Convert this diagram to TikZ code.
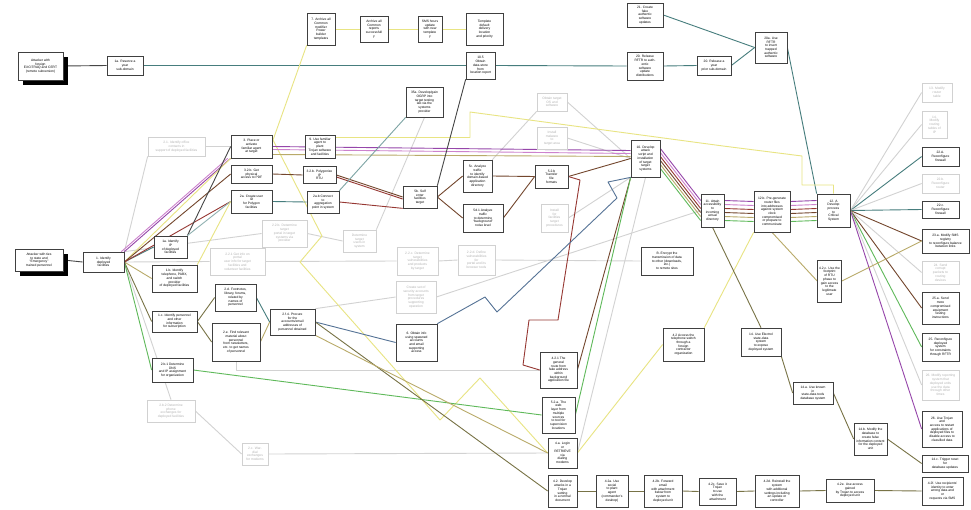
\documentclass[tikz,border=0pt]{standalone}
\usepackage{fontspec}
\setmainfont{Liberation Sans}
\usepackage{tikz}
\usetikzlibrary{
  shadows,
  backgrounds,
  calc
}
\definecolor{tealline}{RGB}{70, 125, 125}
\definecolor{purpleline}{RGB}{150, 70, 170}
\definecolor{pinkline}{RGB}{205, 130, 205}
\definecolor{brownline}{RGB}{115, 70, 45}
\definecolor{redline}{RGB}{150, 55, 50}
\definecolor{tanline}{RGB}{185, 170, 105}
\definecolor{yellowline}{RGB}{232, 228, 130}
\definecolor{greenline}{RGB}{95, 185, 90}
\definecolor{blueline}{RGB}{85, 115, 150}
\definecolor{oliveline}{RGB}{120, 115, 70}
\definecolor{fadeline}{RGB}{210, 210, 210}
\definecolor{darkline}{RGB}{70, 70, 70}
\tikzset{
stepbox/.style={
  draw=black!75,
  fill=white,
  line width=0.7pt,
  inner sep=0.5pt,
  align=center,
  font=\fontsize{3.3}{3.7}\selectfont
},
fadebox/.style={
  stepbox,
  draw=black!18,
  text=black!30
},
rootbox/.style={
  stepbox,
  drop shadow={shadow xshift=4.5pt, shadow yshift=-4.5pt, fill=black, opacity=1}
},
sz/.style 2 args={
  minimum width=#1pt,
  minimum height=#2pt
},
link/.style={
  line width=0.9pt,
  line join=round
}
}

\begin{document}
\begin{tikzpicture}[x=1pt, y=-1pt]
\useasboundingbox (0,0) rectangle (971,509);

\node[rootbox, sz={45}{28}] (atkA) at (40.5,66) {Attacker with\\foreign\\EXCITRAQ and CERT\\(remote subversion)};
\node[stepbox, sz={36}{19}] (n1yr) at (125,65.5) {1a. Reserve a\\year\\sub-domain};
\node[stepbox, sz={28}{32}] (n7) at (321,29) {7. Archive all\\Common\\modifier\\Power\\builder\\templates};
\node[stepbox, sz={28}{26}] (n7a) at (374,29) {Archive all\\Common\\reports\\successfull\\y};
\node[stepbox, sz={24}{26}] (n7b) at (430,29) {SMS hours\\update\\with new\\template\\y};
\node[stepbox, sz={37}{32}] (n7c) at (484.5,29) {Template\\default\\delivery\\location\\and priority};
\node[stepbox, sz={29}{27}] (n105) at (480.5,65.5) {10.5\\Obtain\\data-store\\from\\location report};
\node[stepbox, sz={36}{24}] (n21) at (645,15) {21. Create\\fake\\authentic\\software\\updates};
\node[stepbox, sz={36}{28}] (n20) at (645,66) {20. Release\\RFTR to auth-\\entic\\software\\update\\distributions};
\node[stepbox, sz={34}{19}] (n20r) at (714,65.5) {20. Release a\\year\\prior sub-domain};
\node[stepbox, sz={32}{31}] (n20a) at (771,47.5) {20a. Use\\RFTR\\to insert\\trapped\\authentic\\software};
\node[stepbox, sz={37}{30}] (n35a) at (424.5,102) {35a. Develop/gain\\OGRP into\\target testing\\lab via the\\systems\\provider};

\node[rootbox, sz={48}{22}] (atkB) at (39,260) {Attacker with ties\\to state and\\``Emergency''\\trained personnel};
\node[stepbox, sz={41}{20}] (n1) at (103.5,262) {1. Identify\\deployed\\facilities};
\node[stepbox, sz={33}{22}] (n1a) at (170.5,247) {1a. Identify\\IP\\of deployed\\facilities};
\node[stepbox, sz={45}{27}] (n1b) at (174.5,278.5) {1.b. Identify\\telephone, PABX,\\and switch\\provider\\of deployed facilities};
\node[stepbox, sz={45}{21}] (n1c) at (174.5,321.5) {1.c. Identify personnel\\and other\\information\\for subscription};
\node[stepbox, sz={41}{24}] (n2b1) at (172.5,370) {2.b.1 Determine\\DNS\\and IP assignment\\for organization};
\node[fadebox, sz={48}{22}] (n2b2) at (171,411) {2.b.2 Determine\\phone\\exchanges for\\deployed facilities};
\node[fadebox, sz={26}{22}] (n2c) at (255,454) {2.c. War-\\dial\\exchanges\\for modems};
\node[fadebox, sz={57}{19}] (n21f) at (176.5,146.5) {2.1. Identify office\\contacts in\\support of deployed facilities};

\node[stepbox, sz={41}{23}] (n3) at (251.5,146.5) {3. Place or\\activate\\familiar agent\\at target};
\node[stepbox, sz={41}{18}] (n32b) at (251.5,174) {3.2.b. Get\\physical\\access to PDF};
\node[stepbox, sz={41}{23}] (n2a) at (251.5,201.5) {2a. Create user\\ID\\for Polygon\\facilities};
\node[fadebox, sz={55}{27}] (n221f) at (237.5,261.5) {2.2.1 Get info on\\portal\\user info for target\\facilities and\\volunteer facilities};
\node[stepbox, sz={41}{27}] (n2d) at (235.5,297.5) {2.d. Footnotes,\\library, forums,\\related by\\names of\\personnel};
\node[stepbox, sz={48}{38}] (n2e) at (236,342) {2.e. Find relevant\\material about\\personnel\\from newsletters,\\etc. to get names\\of personnel};

\node[stepbox, sz={30}{23}] (n9) at (320,146.5) {9. Use familiar\\agent to\\plant\\Trojan software\\and facilities};
\node[stepbox, sz={33}{17}] (n32c) at (319.5,175) {3.2.b. Polygonize\\IP\\RTU};
\node[stepbox, sz={32}{22}] (n2ab) at (323,202) {2a.b Connect\\to\\aggregation\\point in system};
\node[fadebox, sz={45}{27}] (n22bf) at (284.5,233.5) {2.2.b. Determine\\target\\portal in target\\systems via\\provider};
\node[fadebox, sz={33}{22}] (n2detf) at (359.5,241) {Determine\\target\\users in\\system};
\node[stepbox, sz={45}{26}] (n2f4) at (292.5,322) {2.f.4. Procure\\for the\\accounts/email\\addresses of\\personnel obtained};

\node[stepbox, sz={34}{22}] (n5b) at (420,197) {5b. Self\\enter\\facilities\\target};
\node[fadebox, sz={41}{28}] (n22cf) at (417.5,261) {2.2.c. Determine\\target\\vulnerabilities\\and products\\by target};
\node[fadebox, sz={37}{30}] (n22df) at (476.5,260) {2.2.d. Define\\vulnerabilities\\for\\portal and its\\browser tools};
\node[fadebox, sz={40}{32}] (ncreatef) at (416,297) {Create set of\\security accounts\\from target\\procedures\\supporting\\operation};
\node[stepbox, sz={41}{37}] (n6) at (416.5,342.5) {6. Obtain info\\using spawned\\accounts\\and email\\supporting\\access};
\node[fadebox, sz={30}{18}] (nobtf) at (552,102) {Obtain target\\OS and\\software};
\node[fadebox, sz={30}{22}] (ninsf) at (552,138) {Install\\malware\\to\\target area};

\node[stepbox, sz={29}{32}] (n5c) at (477.5,176) {5c. Analyze\\traffic\\to identify\\domain-based\\application\\directory};
\node[stepbox, sz={40}{28}] (n5d) at (483,218) {5d.1 Analyze\\traffic\\to determine\\``background''\\noise level};
\node[stepbox, sz={33}{23}] (n5t) at (551.5,176.5) {5.2.b\\Transfer\\file\\formats};
\node[fadebox, sz={27}{28}] (ninstf) at (554.5,218) {Install\\for\\facilities\\target\\procedures};

\node[stepbox, sz={29}{37}] (n10) at (645.5,158.5) {10. Develop\\attack\\script and\\installation\\of target\\target\\systems};
\node[stepbox, sz={23}{33}] (n11) at (712.5,210.5) {11. Attain\\accessibility\\to\\incoming\\actual\\directory};
\node[stepbox, sz={52}{28}] (nB) at (667,261) {B. Encrypt the\\transmission of data\\to other (downloads,\\etc.)\\to remote sites};
\node[stepbox, sz={41}{33}] (n42) at (683.5,344.5) {4.2 Access the\\telephone switch\\through a\\foreign\\contractor\\organization};
\node[stepbox, sz={37}{36}] (n421) at (558.5,370) {4.2.1 The\\general\\route from\\fake address\\within\\background\\application file};
\node[stepbox, sz={33}{36}] (n52a) at (558.5,415) {5.2.a. The\\web\\layer from\\multiple\\sources\\to tool for\\supervision\\locations};
\node[stepbox, sz={29}{30}] (n4a) at (562.5,453) {4.a. Login\\or\\RETRIEVE\\via\\dialing\\modems};
\node[stepbox, sz={29}{32}] (n42d) at (562.5,491) {4.2. Develop\\attacks in a\\Trojan\\setting\\in a normal\\document};
\node[stepbox, sz={32}{32}] (n42a) at (612,491) {4.2a. Use\\social\\to plant\\agent\\(commander's\\desktop)};
\node[stepbox, sz={38}{32}] (n42b) at (663,491) {4.2b. Forward\\email\\with attachment\\below from\\system to\\deployed unit};
\node[stepbox, sz={37}{27}] (n42c) at (717.5,491.5) {4.2c. Save it\\Trojan\\to use\\with the\\attachment};
\node[stepbox, sz={44}{32}] (n42e) at (777,491) {4.2d. Reinstall the\\system\\with additional\\settings including\\an update or\\controller};
\node[stepbox, sz={48}{23}] (n42f) at (850,490.5) {4.2e. Use access\\gained\\by Trojan to access\\deployed unit};
\node[stepbox, sz={41}{28}] (n42g) at (942.5,491) {4.2f. Use recipients'\\identity to enter\\wrong data and\\or\\requests via SMS};

\node[stepbox, sz={36}{41}] (n12b) at (772,211.5) {12.b. Pre-generate\\router files\\into addresses\\against system\\clock\\compromised\\or prepare to\\communicate};
\node[stepbox, sz={33}{33}] (n12) at (833.5,210.5) {12. A\\Develop\\process\\to\\Critical\\System};
\node[stepbox, sz={24}{42}] (n42u) at (829.5,281) {4.2.c. Use the\\footprint\\of RTU\\phase to\\gain access\\to the\\legitimate\\user};
\node[stepbox, sz={40}{28}] (n14) at (761,342) {14. Use Electrol\\state-data\\system\\to expose\\deployed system};
\node[stepbox, sz={40}{22}] (n14a) at (813,393) {14.a. Use known\\in\\state-data tools\\database system};
\node[stepbox, sz={33}{32}] (n14b) at (870.5,439) {14.b. Modify the\\database to\\create false\\information content\\for the deployed\\unit};
\node[stepbox, sz={46}{17}] (n14c) at (945,463.5) {14.c. Trigger reset\\for\\database updates};

\node[fadebox, sz={30}{19}] (n13f) at (937,92.5) {13. Modify\\router\\table};
\node[fadebox, sz={25}{27}] (n14f) at (934.5,124.5) {14.\\Modify\\routing\\tables of\\IP};
\node[stepbox, sz={37}{19}] (n22A) at (940.5,156.5) {22.A.\\Reconfigure\\firewall};
\node[fadebox, sz={37}{19}] (n22bf2) at (940.5,183.5) {22.b.\\Reconfigure\\router};
\node[stepbox, sz={37}{17}] (n22c) at (940.5,209.5) {22.c.\\Reconfigure\\firewall};
\node[stepbox, sz={47}{24}] (n23a) at (945.5,241) {23.a. Modify SMS\\registry\\to reconfigure balance\\between links};
\node[fadebox, sz={37}{23}] (n24f) at (940.5,272.5) {24. Send\\corrupt\\packets to\\routing\\devices};
\node[stepbox, sz={37}{32}] (n25a) at (940.5,308) {25.a. Send\\more\\compromised\\equipment\\testing\\instructions};
\node[stepbox, sz={37}{28}] (n25) at (940.5,347) {25. Reconfigure\\deployed\\system\\for constraints\\through RFTR};
\node[fadebox, sz={37}{30}] (n26f) at (940.5,385) {26. Modify reporting\\system that\\deployed units\\use the data\\through other\\times};
\node[stepbox, sz={40}{36}] (n26) at (942,429) {26. Use Trojan\\and\\access to restart\\applications of\\deployed files to\\disable access to\\classified data};

\begin{scope}[on background layer]
\fill[white] (0,0) rectangle (971,509);

\draw[link, fadeline] (n1.east) -- (n2b2.north);
\draw[link, fadeline] (n1.north east) -- (n21f.south west);
\draw[link, fadeline] (n21f.east) -- (n3.west);
\draw[link, fadeline] (n1.east) -- (n221f.west);
\draw[link, fadeline] (n1.north east) -- (n22bf.west);
\draw[link, fadeline] (n2b2.east) -- (n2c.west);
\draw[link, fadeline] (n2c.east) -- (n4a.west);
\draw[link, fadeline] (n2e.south) |- (n421.west);
\draw[link, fadeline] (n221f.east) -- (n22cf.west);
\draw[link, fadeline] (n22cf.east) -- (n22df.west);
\draw[link, fadeline] (n22df.east) -- (nB.west);
\draw[link, fadeline] (n22bf.east) -- (n2detf.west);
\draw[link, fadeline] (n2detf.north east) -- (n35a.south);
\draw[link, fadeline] (n2f4.north east) -- (ncreatef.west);
\draw[link, fadeline] (ncreatef.east) -- (n11.west);
\draw[link, fadeline] (nobtf.east) -- (n10.west);
\draw[link, fadeline] (ninsf.east) -- (n10.west);
\draw[link, fadeline] (nobtf.south west) -- (n5c.north east);
\draw[link, fadeline] (ninstf.east) -- (n10.south west);
\draw[link, fadeline] (n4a.east) -- (n10.south);

\draw[link, darkline] (atkA.east) -- (n1yr.west);
\draw[link, tealline] (n1yr.east) -- (n105.west);
\draw[link, tealline] (n105.east) -- (n20.west);
\draw[link, tealline] (n20.east) -- (n20r.west);
\draw[link, tealline] (n20r.east) -- (n20a.west);
\draw[link, tealline] (n21.east) -- (n20a.west);
\draw[link, tealline] (n20a.east) -- (n12.north west);

\draw[link, yellowline] (n7.east) -- (n7a.west);
\draw[link, yellowline] (n7a.east) -- (n7b.west);
\draw[link, yellowline] (n7b.east) -- (n7c.west);
\draw[link, yellowline] (n7.south west) -- (273,140) -- (322,236) -- (300,262) -- (440,420) -- (480,378) -- (n4a.west);
\draw[link, yellowline] ([yshift=9pt]n9.east) -| (470,112) -- (723,146) -- (802,156) |- (833.5,185) -- (n12.north);

\draw[link, darkline] (atkB.east) -- (n1.west);
\draw[link, tealline] (n1.east) -- (n1a.west);
\draw[link, tanline] (n1.east) -- (n1b.west);
\draw[link, oliveline] (n1.east) -- (n1c.west);
\draw[link, greenline] (n1.east) -- (n2b1.west);
\draw[link, purpleline] (n1.north east) -- (n3.south west);
\draw[link, pinkline] ([xshift=-3pt]n1.north east) -- ([xshift=-3pt]n3.south west);
\draw[link, yellowline] (n1.east) -- (n3.south west);
\draw[link, brownline] (n1.east) -- (n32b.west);
\draw[link, redline] (n1.east) -- (n2a.west);
\draw[link, darkline] (n1a.north east) -- (n3.west);
\draw[link, tealline!60] (n1a.north east) -- (n2a.west);
\draw[link, yellowline] (n1b.north east) -- (n2a.west);
\draw[link, oliveline] (n1c.east) -- (n2d.west);
\draw[link, oliveline] (n1c.east) -- (n2e.west);
\draw[link, tealline] (n2d.east) -- (n2f4.west);
\draw[link, tanline] (n2e.east) -- (n2f4.west);
\draw[link, greenline] (n2b1.east) -- (n52a.west);

\draw[link, purpleline] (n3.east) -- ([yshift=8pt]n10.west);
\draw[link, pinkline] ([yshift=-3pt]n3.east) -- ([yshift=5pt]n10.west);
\draw[link, tanline] ([yshift=-8pt]n3.east) -- ([yshift=2pt]n10.west);
\draw[link, brownline] (n32b.east) -- (n32c.west);
\draw[link, brownline] (n32c.east) -- (n5b.west);
\draw[link, redline] ([yshift=-2pt]n32c.east) -- ([yshift=-2pt]n5b.west);
\draw[link, tealline] (n2a.east) -- (n2ab.west);
\draw[link, redline] (n2ab.east) -- (n5b.south west);
\draw[link, tealline!70] (n2ab.north east) -- (n35a.south west);

\draw[link, darkline] (n5b.north east) -- (n105.south west);
\draw[link, brownline] (n5b.east) -- (n5c.west);
\draw[link, brownline] (n5b.east) -- (n5d.west);
\draw[link, brownline] (n5c.east) -- (n5t.west);
\draw[link, brownline] (n5d.east) -- (n5t.west);
\draw[link, brownline] (n5t.east) -- (n10.west);
\draw[link, redline] (n5t.east) -- (580,180) -- (558,320) -- (529,320) -- (523,365) -- (n421.west);
\draw[link, brownline] (n421.east) -- (n10.south west);
\draw[link, greenline] (n52a.east) -- (n10.south west);

\draw[link, blueline] (n2f4.east) -- (n6.west);
\draw[link, oliveline] (n2f4.east) -- (n42d.west);
\draw[link, tanline] (n2f4.south east) -- (n4a.west);
\draw[link, blueline] (n6.north east) -- (485,297) -- (497,312) -- (617,198) -- (608,182) -- (n10.south west);

\draw[link, yellowline] (n4a.east) -- (n42.west);
\draw[link, yellowline] (n42.north east) -- (n12b.south west);

\foreach \c [count=\i] in {purpleline,pinkline,redline,brownline,tanline,greenline}{
  \draw[link, draw=\c] ([yshift={(3.5-\i)*4pt}]n10.east) -- ([yshift={(3.5-\i)*4pt}]n11.west);
  \draw[link, draw=\c] ([yshift={(3.5-\i)*4pt}]n11.east) -- ([yshift={(3.5-\i)*4pt}]n12b.west);
  \draw[link, draw=\c] ([yshift={(3.5-\i)*4pt}]n12b.east) -- ([yshift={(3.5-\i)*4pt}]n12.west);
}

\foreach \t/\c in {n13f/fadeline, n14f/fadeline, n22A/tealline, n22bf2/fadeline, n22c/tealline, n23a/brownline, n24f/fadeline, n25a/brownline, n25/greenline, n26f/fadeline, n26/purpleline}{
  \draw[link, draw=\c] (n12.east) -- (\t.west);
}

\draw[link, tanline] (n12b.south) -- (n42u.west);
\draw[link, tanline] (n42u.east) -- (n23a.west);

\draw[link, oliveline] (n11.south) -- (n14.north);
\draw[link, oliveline] (n14.south east) -- (n14a.west);
\draw[link, oliveline] (n14a.east) -- (n14b.west);
\draw[link, oliveline] (n14b.east) -- (n14c.west);

\draw[link, oliveline] (n42d.east) -- (n42a.west);
\draw[link, oliveline] (n42a.east) -- (n42b.west);
\draw[link, oliveline] (n42b.east) -- (n42c.west);
\draw[link, oliveline] (n42c.east) -- (n42e.west);
\draw[link, oliveline] (n42e.east) -- (n42f.west);
\draw[link, oliveline] (n42f.east) -- (n42g.west);
\end{scope}
\end{tikzpicture}
\end{document}
